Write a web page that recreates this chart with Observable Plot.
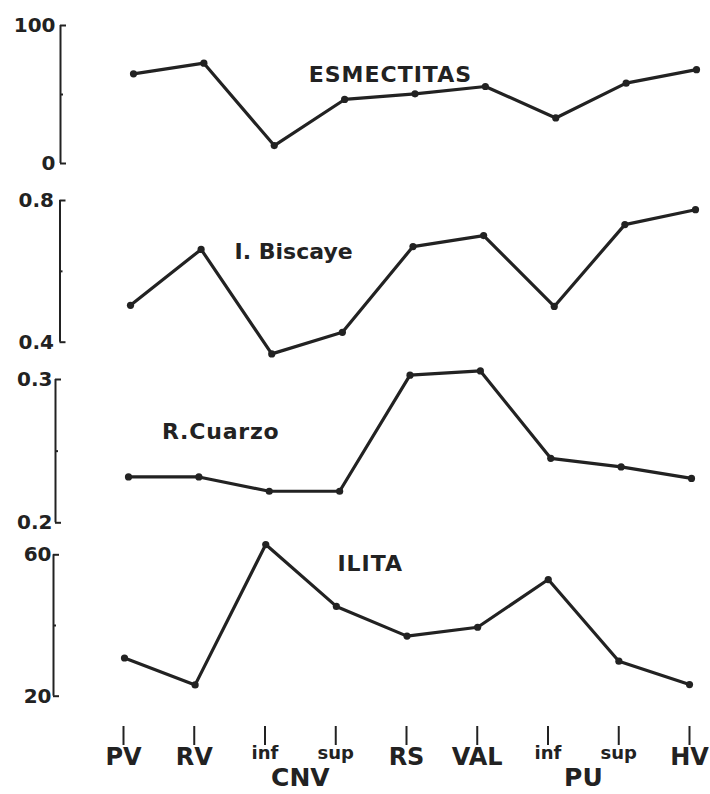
<!DOCTYPE html>
<html><head><meta charset="utf-8">
<script src="https://cdn.jsdelivr.net/npm/d3@7"></script>
<script src="https://cdn.jsdelivr.net/npm/@observablehq/plot@0.6"></script>
<style>
body{margin:0;background:#fff;}
#chart{position:relative;width:710px;height:794px;background:#fff;overflow:hidden}
#chart > svg{position:absolute;left:0}
</style></head><body><div id="chart"></div>
<script>
// ---- data ----
const categories = ["PV","RV","CNV inf","CNV sup","RS","VAL","PU inf","PU sup","HV"];
const tickLabels = ["PV","RV","inf","sup","RS","VAL","inf","sup","HV"];
const tickGroups = ["","","CNV","CNV","","","PU","PU",""];
const esmectitas = [65, 72.7, 13, 46.4, 50.5, 55.8, 33, 58.2, 68];
const biscaye    = [0.504, 0.662, 0.367, 0.428, 0.670, 0.701, 0.501, 0.732, 0.774];
const cuarzo     = [0.232, 0.232, 0.222, 0.222, 0.303, 0.306, 0.245, 0.239, 0.231];
const ilita      = [30.8, 23.2, 62.9, 45.4, 37.0, 39.5, 53.0, 29.9, 23.3];
const esmTicks = [0, 100], bisTicks = [0.4, 0.8], cuaTicks = [0.2, 0.3], ilTicks = [20, 60];

const INK = "#222";
const FONT = "'DejaVu Sans', 'Liberation Sans', sans-serif";
const chart = document.getElementById("chart");
const n = categories.length;

function panel(o) {
  const data = o.values.map((v, i) => ({i, v, c: categories[i]}));
  const p = Plot.plot({
    width: 710, height: o.height,
    marginTop: o.marginTop, marginBottom: o.marginBottom,
    marginLeft: o.axisPos, marginRight: 0,
    style: {background: "transparent", fontFamily: FONT, color: INK, overflow: "visible"},
    x: {domain: [0, n - 1], range: o.xRange, axis: null},
    y: {domain: [o.ticks[0], o.ticks[1]], axis: null},
    marks: [
      // axis line (drawn at the frame's left edge: shifted from the first category)
      Plot.ruleX([0], {y1: o.ticks[0], y2: o.ticks[1], dx: o.axisPos - o.xRange[0], stroke: INK, strokeWidth: 2}),
      Plot.axisY({ticks: o.ticks, tickSize: -6, tickFormat: () => "", label: null, stroke: INK, strokeWidth: 2}),
      Plot.axisY({ticks: [(o.ticks[0] + o.ticks[1]) / 2], tickSize: -3, tickFormat: () => "", label: null, stroke: INK, strokeWidth: 2}),
      Plot.axisY({ticks: o.ticks, tickSize: 0, tickPadding: o.pad, tickFormat: o.fmt, label: null,
                  fontSize: 20, fontWeight: "bold", fill: INK}),
      Plot.line(data, {x: "i", y: "v", stroke: INK, strokeWidth: 3.2}),
      Plot.dot(data, {x: "i", y: "v", r: 3.6, fill: INK}),
      Plot.text([o.label], {x: o.labelX, y: o.labelY, text: d => d, fontSize: o.labelSize,
                  fontWeight: "bold", fill: INK, className: "serieslabel"})
    ]
  });
  d3.select(p).selectAll(".serieslabel text").attr("letter-spacing", o.ls);
  p.style.top = o.top + "px";
  chart.append(p);
}

panel({values: esmectitas, ticks: esmTicks, fmt: d => String(d), pad: 5,
  top: 0, height: 185, marginTop: 25, marginBottom: 22, axisPos: 60, xRange: [133, 696],
  label: "ESMECTITAS", labelX: 3.65, labelY: 64, labelSize: 22, ls: 1});
panel({values: biscaye, ticks: bisTicks, fmt: d => d.toFixed(1), pad: 6,
  top: 185, height: 175, marginTop: 15, marginBottom: 18.3, axisPos: 59.5, xRange: [130, 695],
  label: "I. Biscaye", labelX: 2.31, labelY: 0.656, labelSize: 22, ls: 0});
panel({values: cuarzo, ticks: cuaTicks, fmt: d => d.toFixed(1), pad: 3,
  top: 360, height: 175, marginTop: 19, marginBottom: 12.7, axisPos: 55, xRange: [128, 691],
  label: "R.Cuarzo", labelX: 1.31, labelY: 0.2634, labelSize: 22, ls: 0.8});
panel({values: ilita, ticks: ilTicks, fmt: d => String(d), pad: 2,
  top: 535, height: 170, marginTop: 19.3, marginBottom: 9.3, axisPos: 53, xRange: [124, 689],
  label: "ILITA", labelX: 3.48, labelY: 57.4, labelSize: 22, ls: 1});

// ---- bottom category axis ----
const mainLabels = tickLabels.map((t, i) => ({i, t})).filter(d => !tickGroups[d.i]);
const subLabels  = tickLabels.map((t, i) => ({i, t})).filter(d => tickGroups[d.i]);
const groupLabels = Array.from(d3.group(subLabels, d => tickGroups[d.i]),
  ([g, arr]) => ({t: g, i: d3.mean(arr, d => d.i)}));

const bottom = Plot.plot({
  width: 710, height: 89, marginTop: 0, marginBottom: 68, marginLeft: 0, marginRight: 0,
  style: {background: "transparent", fontFamily: FONT, color: INK, overflow: "visible"},
  x: {domain: [0, n - 1], range: [123, 689], axis: null},
  marks: [
    Plot.axisX({ticks: d3.range(n), tickSize: 19, tickFormat: () => "", label: null, anchor: "bottom", stroke: INK, strokeWidth: 2}),
    Plot.text(mainLabels, {x: "i", text: "t", frameAnchor: "bottom", dy: 38, fontSize: 24, fontWeight: "bold", fill: INK}),
    Plot.text(subLabels, {x: "i", text: "t", frameAnchor: "bottom", dy: 32, fontSize: 18, fontWeight: "bold", fill: INK}),
    Plot.text(groupLabels, {x: "i", text: "t", frameAnchor: "bottom", dy: 59, fontSize: 25, fontWeight: "bold", fill: INK})
  ]
});
bottom.style.top = "705px";
chart.append(bottom);
</script>
</body></html>
